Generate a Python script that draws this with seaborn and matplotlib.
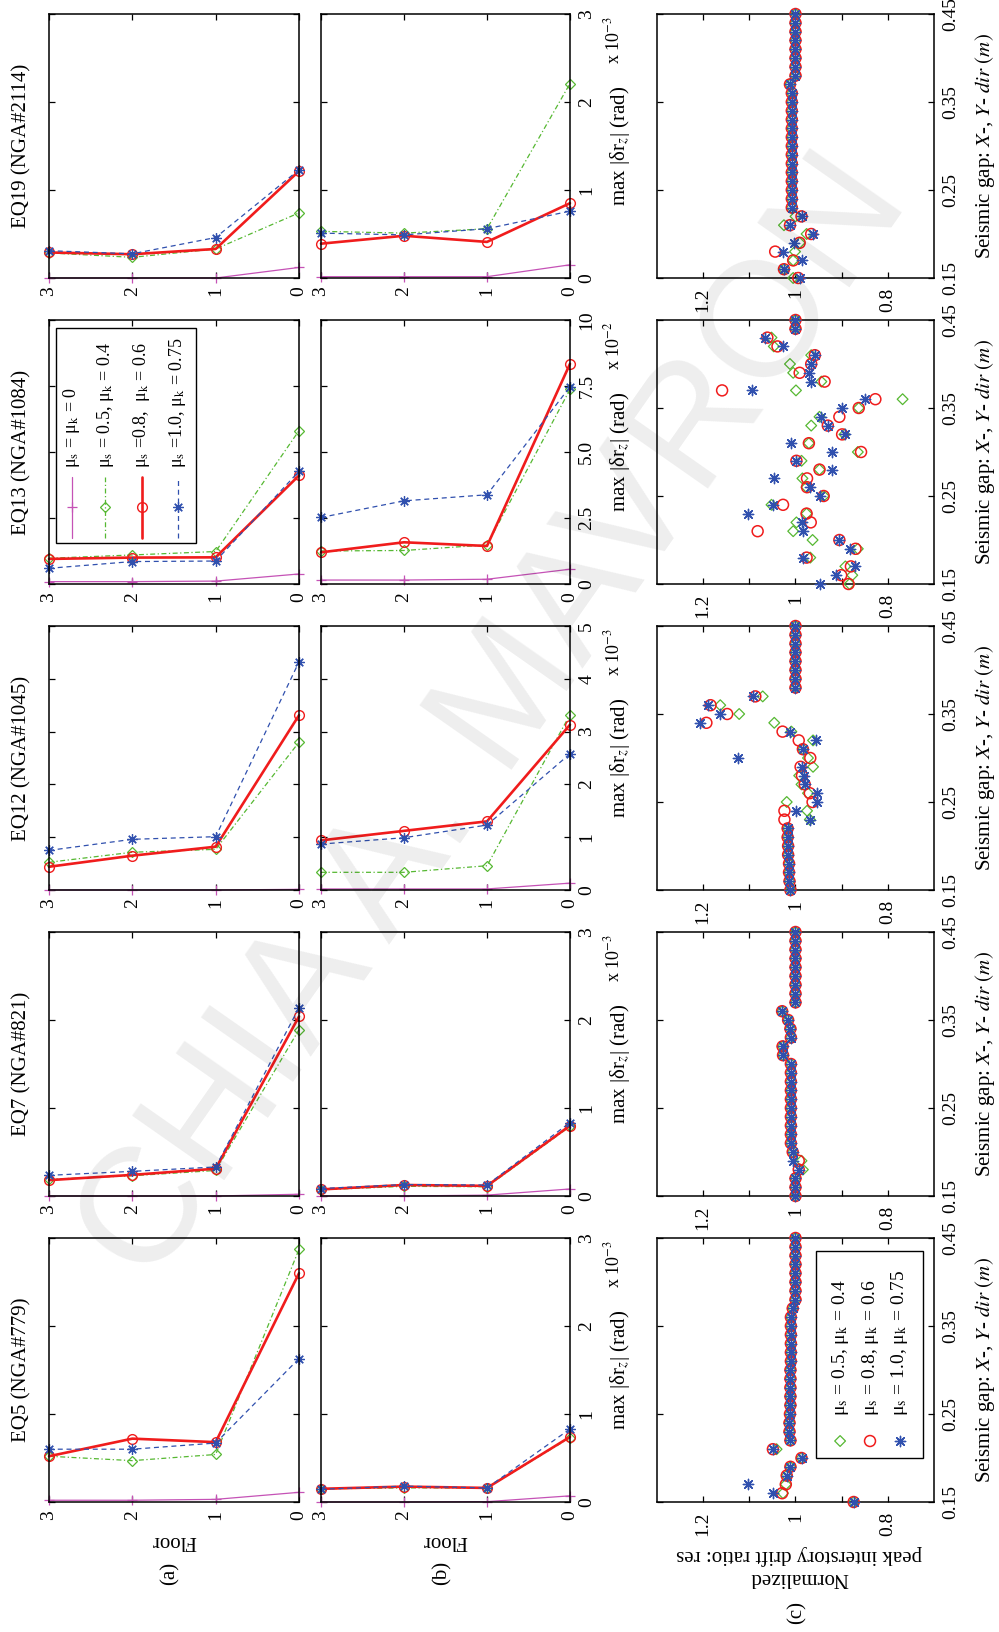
import matplotlib
matplotlib.use("Agg")
import matplotlib.pyplot as plt
from matplotlib.patches import Rectangle
import seaborn as sns

sns.set_theme(style="ticks", rc={
    "axes.edgecolor": "black", "text.color": "black", "axes.labelcolor": "black",
    "xtick.color": "black", "ytick.color": "black", "axes.linewidth": 1.1,
})
plt.rcParams["font.family"] = ["Liberation Serif", "DejaVu Serif"]
plt.rcParams["mathtext.fontset"] = "stix"

# ------------------------------------------------------------------ data
floors = [3, 2, 1, 0]

event_titles = ["EQ5 (NGA#779)", "EQ7 (NGA#821)", "EQ12 (NGA#1045)",
                "EQ13 (NGA#1084)", "EQ19 (NGA#2114)"]

# rotation axis (scaled units) per event
drift_max = [3, 3, 5, 10, 3]
drift_ticks = [[0, 1, 2, 3], [0, 1, 2, 3], [0, 1, 2, 3, 4, 5],
               [0, 2.5, 5, 7.5, 10], [0, 1, 2, 3]]
drift_ticklabels = [["0", "1", "2", "3"], ["0", "1", "2", "3"],
                    ["0", "1", "2", "3", "4", "5"],
                    ["0", "2.5", "5.0", "7.5", "10"], ["0", "1", "2", "3"]]
drift_exponent = [-3, -3, -3, -2, -3]

case_labels = [r"μ$_\mathrm{s}$ = μ$_\mathrm{k}$ = 0",
               r"μ$_\mathrm{s}$ = 0.5, μ$_\mathrm{k}$ = 0.4",
               r"μ$_\mathrm{s}$ =0.8,  μ$_\mathrm{k}$ = 0.6",
               r"μ$_\mathrm{s}$ =1.0, μ$_\mathrm{k}$ = 0.75"]
case_labels_c = [r"μ$_\mathrm{s}$ = 0.5, μ$_\mathrm{k}$ = 0.4",
                 r"μ$_\mathrm{s}$ = 0.8, μ$_\mathrm{k}$ = 0.6",
                 r"μ$_\mathrm{s}$ = 1.0, μ$_\mathrm{k}$ = 0.75"]

# rows: friction case (0 | 0.5/0.4 | 0.8/0.6 | 1.0/0.75); columns: floors 3, 2, 1, 0
eq5_a = [[0.02, 0.02, 0.03, 0.11], [0.52, 0.47, 0.54, 2.87],
         [0.52, 0.72, 0.68, 2.60], [0.60, 0.60, 0.67, 1.63]]
eq5_b = [[0.0, 0.0, 0.004, 0.07], [0.15, 0.16, 0.16, 0.73],
         [0.15, 0.175, 0.16, 0.74], [0.145, 0.18, 0.16, 0.83]]
eq7_a = [[0.0, 0.0, 0.0, 0.02], [0.19, 0.23, 0.29, 1.89],
         [0.18, 0.24, 0.31, 2.04], [0.235, 0.28, 0.33, 2.14]]
eq7_b = [[0.0, 0.0, 0.01, 0.08], [0.07, 0.11, 0.105, 0.79],
         [0.075, 0.125, 0.115, 0.80], [0.085, 0.13, 0.125, 0.835]]
eq12_a = [[0.0, 0.0, 0.0, 0.013], [0.525, 0.715, 0.77, 2.80],
          [0.44, 0.65, 0.82, 3.31], [0.75, 0.96, 1.01, 4.32]]
eq12_b = [[0.02, 0.02, 0.02, 0.13], [0.335, 0.335, 0.46, 3.32],
          [0.94, 1.12, 1.30, 3.13], [0.87, 0.99, 1.23, 2.58]]
eq13_a = [[0.09, 0.09, 0.11, 0.38], [0.975, 1.10, 1.23, 5.81],
          [0.95, 1.0, 1.01, 4.11], [0.595, 0.85, 0.87, 4.27]]
eq13_b = [[0.15, 0.15, 0.18, 0.56], [1.25, 1.27, 1.48, 7.37],
          [1.20, 1.58, 1.44, 8.34], [2.52, 3.15, 3.38, 7.47]]
eq19_a = [[0.0, 0.0, 0.0, 0.12], [0.285, 0.235, 0.33, 0.74],
          [0.29, 0.27, 0.33, 1.215], [0.31, 0.275, 0.46, 1.23]]
eq19_b = [[0.015, 0.015, 0.015, 0.15], [0.53, 0.51, 0.56, 2.21],
          [0.39, 0.48, 0.41, 0.85], [0.51, 0.49, 0.56, 0.76]]

# seismic gap values (m)
gap_m = [0.15, 0.16, 0.17, 0.18, 0.19, 0.20, 0.21, 0.22, 0.23, 0.24, 0.25,
         0.26, 0.27, 0.28, 0.29, 0.30, 0.31, 0.32, 0.33, 0.34, 0.35, 0.36,
         0.37, 0.38, 0.39, 0.40, 0.41, 0.42, 0.43, 0.44, 0.45]

# normalized peak interstory drift ratio per friction case
eq5_c_05 = [0.874, 1.027, 1.021, 1.019, 1.011, 0.987, 1.041, 1.011, 1.013, 1.013, 1.012,
            1.011, 1.011, 1.011, 1.011, 1.011, 1.010, 1.010, 1.010, 1.010, 1.010, 1.010,
            1.006, 1.0, 1.0, 1.0, 1.0, 1.0, 1.0, 1.0, 1.0]
eq5_c_08 = [0.874, 1.029, 1.021, 1.019, 1.011, 0.987, 1.049, 1.011, 1.013, 1.013, 1.012,
            1.011, 1.011, 1.011, 1.011, 1.011, 1.010, 1.010, 1.010, 1.010, 1.010, 1.010,
            1.006, 1.0, 1.0, 1.0, 1.0, 1.0, 1.0, 1.0, 1.0]
eq5_c_10 = [0.874, 1.049, 1.102, 1.019, 1.011, 0.987, 1.049, 1.011, 1.013, 1.013, 1.012,
            1.011, 1.011, 1.011, 1.011, 1.011, 1.010, 1.010, 1.010, 1.010, 1.010, 1.010,
            1.006, 1.0, 1.0, 1.0, 1.0, 1.0, 1.0, 1.0, 1.0]

eq7_c_05 = [1.0, 1.0, 1.0, 0.984, 0.987, 1.006, 1.010, 1.010, 1.010, 1.010, 1.010,
            1.010, 1.010, 1.010, 1.010, 1.010, 1.027, 1.028, 1.010, 1.011, 1.016, 1.029,
            1.0, 1.0, 1.0, 1.0, 1.0, 1.0, 1.0, 1.0, 1.0]
eq7_c_08 = [1.0, 1.0, 1.0, 0.993, 0.993, 1.006, 1.010, 1.010, 1.010, 1.010, 1.010,
            1.010, 1.010, 1.010, 1.010, 1.010, 1.027, 1.028, 1.010, 1.011, 1.016, 1.029,
            1.0, 1.0, 1.0, 1.0, 1.0, 1.0, 1.0, 1.0, 1.0]
eq7_c_10 = [1.0, 1.0, 1.0, 0.993, 1.005, 1.006, 1.010, 1.010, 1.010, 1.010, 1.010,
            1.010, 1.010, 1.010, 1.010, 1.010, 1.027, 1.028, 1.010, 1.011, 1.016, 1.029,
            1.0, 1.0, 1.0, 1.0, 1.0, 1.0, 1.0, 1.0, 1.0]

eq12_c_05 = [1.011, 1.013, 1.014, 1.014, 1.016, 1.016, 1.017, 1.017, 0.969, 0.975, 1.019,
             0.973, 0.987, 0.992, 0.962, 0.973, 0.984, 0.962, 1.009, 1.046, 1.122, 1.163,
             1.071, 1.0, 1.0, 1.0, 1.0, 1.0, 1.0, 1.0, 1.0]
eq12_c_08 = [1.011, 1.013, 1.014, 1.014, 1.016, 1.016, 1.017, 1.017, 1.024, 1.024, 0.963,
             0.969, 0.980, 0.986, 0.989, 0.968, 0.984, 0.993, 1.028, 1.193, 1.148, 1.184,
             1.087, 1.0, 1.0, 1.0, 1.0, 1.0, 1.0, 1.0, 1.0]
eq12_c_10 = [1.011, 1.013, 1.014, 1.014, 1.016, 1.016, 1.017, 1.017, 0.969, 0.999, 0.953,
             0.953, 0.980, 0.982, 0.987, 1.125, 0.984, 0.956, 1.011, 1.206, 1.164, 1.190,
             1.091, 1.0, 1.0, 1.0, 1.0, 1.0, 1.0, 1.0, 1.0]

eq13_c_05 = [0.883, 0.877, 0.892, 0.968, 0.865, 0.963, 1.005, 0.998, 0.976, 1.052, 0.939,
             0.976, 0.985, 0.948, 0.987, 0.865, 0.971, 0.894, 0.966, 0.948, 0.863, 0.768,
             0.999, 0.944, 1.005, 1.012, 0.966, 1.047, 1.052, 1.0, 1.0]
eq13_c_08 = [0.885, 0.901, 0.880, 0.976, 0.870, 0.905, 1.082, 0.967, 0.976, 1.027, 0.939,
             0.975, 0.975, 0.948, 0.998, 0.858, 0.971, 0.899, 0.930, 0.905, 0.863, 0.827,
             1.159, 0.937, 0.991, 0.966, 0.958, 1.039, 1.061, 1.0, 1.0]
eq13_c_10 = [0.946, 0.913, 0.872, 0.984, 0.883, 0.905, 0.984, 0.985, 1.102, 1.048, 0.946,
             0.969, 1.047, 0.921, 0.998, 0.921, 1.009, 0.892, 0.930, 0.944, 0.899, 0.849,
             1.095, 0.966, 0.971, 0.966, 0.958, 1.028, 1.065, 1.0, 1.0]

eq19_c_05 = [1.005, 1.025, 1.005, 1.001, 0.991, 0.976, 1.025, 1.0, 1.008, 1.008, 1.008,
             1.008, 1.008, 1.008, 1.008, 1.008, 1.008, 1.008, 1.008, 1.008, 1.008, 1.008,
             1.012, 1.0, 1.0, 1.0, 1.0, 1.0, 1.0, 1.0, 1.0]
eq19_c_08 = [0.994, 1.025, 1.005, 1.044, 0.991, 0.966, 1.012, 0.987, 1.008, 1.008, 1.008,
             1.008, 1.008, 1.008, 1.008, 1.008, 1.008, 1.008, 1.008, 1.008, 1.008, 1.008,
             1.012, 1.0, 1.0, 1.0, 1.0, 1.0, 1.0, 1.0, 1.0]
eq19_c_10 = [0.991, 1.025, 0.985, 1.027, 1.004, 0.962, 1.012, 0.987, 1.008, 1.008, 1.008,
             1.008, 1.008, 1.008, 1.008, 1.008, 1.008, 1.008, 1.008, 1.008, 1.008, 1.008,
             1.012, 1.0, 1.0, 1.0, 1.0, 1.0, 1.0, 1.0, 1.0]

row_a = [eq5_a, eq7_a, eq12_a, eq13_a, eq19_a]
row_b = [eq5_b, eq7_b, eq12_b, eq13_b, eq19_b]
row_c = [[eq5_c_05, eq5_c_08, eq5_c_10], [eq7_c_05, eq7_c_08, eq7_c_10],
         [eq12_c_05, eq12_c_08, eq12_c_10], [eq13_c_05, eq13_c_08, eq13_c_10],
         [eq19_c_05, eq19_c_08, eq19_c_10]]

# ------------------------------------------------------------------ styles
MAGENTA, GREEN, RED, BLUE = "#c552b6", "#56b832", "#f01c1c", "#3050ae"
ASTERISK = (8, 2, 0)
line_styles = [
    dict(color=MAGENTA, linestyle="-", linewidth=0.9, marker="+", markersize=7, markeredgewidth=0.9),
    dict(color=GREEN, linestyle=(0, (4, 2, 1, 2)), linewidth=0.9, marker="D", markersize=5.2, markeredgewidth=0.9),
    dict(color=RED, linestyle="-", linewidth=1.9, marker="o", markersize=7, markeredgewidth=1.0),
    dict(color=BLUE, linestyle=(0, (4, 3)), linewidth=0.9, marker=ASTERISK, markersize=7.5, markeredgewidth=0.9),
]
scatter_styles = [
    dict(marker="D", s=30, color=GREEN, facecolor="none", edgecolor=GREEN, linewidth=0.9),
    dict(marker="o", s=62, color=RED, facecolor="none", edgecolor=RED, linewidth=1.1),
    dict(marker=ASTERISK, s=55, color=BLUE, linewidth=1.0),
]

TICK_FS, LABEL_FS = 14, 15
W, H = 999, 1632
fig = plt.figure(figsize=(W / 100, H / 100), dpi=100)


def axes_px(left, top, width, height):
    return fig.add_axes([left / W, 1 - (top + height) / H, width / W, height / H])


def fig_text(x, y, s, **kw):
    return fig.text(x / W, 1 - y / H, s, **kw)


def frame(ax):
    for sp in ax.spines.values():
        sp.set_visible(True)
        sp.set_linewidth(1.1)
        sp.set_color("black")
    ax.tick_params(axis="both", which="both", direction="in", length=4, width=0.9,
                   top=True, bottom=True, left=True, right=True, labelsize=TICK_FS)


PANEL_H = 264
tops = [1238, 932, 626, 320, 14]          # EQ5 ... EQ19
cols = {"a": (49, 250), "b": (321, 249), "c": (657, 277)}

for i, title in enumerate(event_titles):
    top = tops[i]
    yc = top + PANEL_H / 2
    fig_text(22, yc, title, rotation=90, ha="center", va="center", fontsize=LABEL_FS)

    for row, data in (("a", row_a[i]), ("b", row_b[i])):
        left, width = cols[row]
        ax = axes_px(left, top, width, PANEL_H)
        frame(ax)
        for vals, st in zip(data, line_styles):
            sns.lineplot(x=floors, y=vals, ax=ax, estimator=None, sort=False,
                         markerfacecolor="none", markeredgecolor=st["color"],
                         clip_on=False, legend=False, **st)
        ax.set_xlim(3, 0)
        ax.set_ylim(0, drift_max[i])
        ax.set_xticks([0, 1, 2, 3], ["0", "1", "2", "3"], rotation=90, ha="center", va="top")
        ax.tick_params(axis="x", pad=6)
        if row == "b":
            ax.set_yticks(drift_ticks[i], drift_ticklabels[i], rotation=90,
                          ha="left", va="center")
            ax.tick_params(axis="y", labelleft=False, labelright=True, pad=6)
            fig_text(left + width + 50, yc, "max |δr$_z$| (rad)", rotation=90,
                     ha="center", va="center", fontsize=LABEL_FS)
            fig_text(left + width + 43, top + 26, "x 10$^{%d}$" % drift_exponent[i],
                     rotation=90, ha="center", va="center", fontsize=13)
        else:
            ax.set_yticks(drift_ticks[i])
            ax.tick_params(axis="y", labelleft=False, labelright=False)
        ax.set_xlabel("")
        ax.set_ylabel("")

        # legend of the friction cases
        if row == "a" and i == 3:
            ax.add_patch(Rectangle((0.028, 0.155), 0.56, 0.815, transform=ax.transAxes,
                                   facecolor="white", edgecolor="black", lw=1.0, zorder=5))
            for xc, lab, st in zip([0.092, 0.224, 0.372, 0.516], case_labels, line_styles):
                ax.plot([xc, xc], [0.174, 0.405], transform=ax.transAxes, zorder=6,
                        color=st["color"], linestyle=st["linestyle"], linewidth=st["linewidth"])
                ax.plot([xc], [0.29], transform=ax.transAxes, zorder=6, linestyle="none",
                        marker=st["marker"], markersize=st["markersize"],
                        markeredgewidth=st["markeredgewidth"], markerfacecolor="none",
                        markeredgecolor=st["color"])
                ax.text(xc, 0.44, lab, transform=ax.transAxes, rotation=90, ha="center",
                        va="bottom", fontsize=13, zorder=7)

    # (c) normalized drift vs seismic gap
    left, width = cols["c"]
    ax = axes_px(left, top, width, PANEL_H)
    frame(ax)
    for vals, st in zip(row_c[i], scatter_styles):
        sns.scatterplot(x=vals, y=gap_m, ax=ax, clip_on=False, legend=False, zorder=3, **st)
    ax.set_xlim(1.3, 0.7)
    ax.set_ylim(0.15, 0.45)
    ax.set_xticks([0.8, 0.9, 1.0, 1.1, 1.2], ["0.8", "", "1", "", "1.2"], rotation=90,
                  ha="center", va="top")
    ax.set_yticks([0.15, 0.25, 0.35, 0.45], ["0.15", "0.25", "0.35", "0.45"], rotation=90,
                  ha="left", va="center")
    ax.tick_params(axis="x", pad=7)
    ax.tick_params(axis="y", labelleft=False, labelright=True, pad=6)
    ax.set_xlabel("")
    ax.set_ylabel("")
    fig_text(left + width + 51, yc, "Seismic gap: $X$-, $Y$- $dir$ $(m)$", rotation=90,
             ha="center", va="center", fontsize=LABEL_FS)

    if i == 0:
        ax.add_patch(Rectangle((0.574, 0.167), 0.386, 0.784, transform=ax.transAxes,
                               facecolor="white", edgecolor="black", lw=1.0, zorder=5))
        for xc, lab, st in zip([0.661, 0.769, 0.877], case_labels_c, scatter_styles):
            ax.scatter([xc], [0.231], transform=ax.transAxes, zorder=6, **st)
            ax.text(xc, 0.325, lab, transform=ax.transAxes, rotation=90, ha="center",
                    va="bottom", fontsize=14, zorder=7)

# shared axis annotations along the bottom edge
fig_text(174, 1541, "Floor", rotation=180, ha="center", va="center", fontsize=LABEL_FS)
fig_text(445, 1541, "Floor", rotation=180, ha="center", va="center", fontsize=LABEL_FS)
fig_text(799, 1566, "Normalized\npeak interstory drift ratio: res", rotation=180,
         ha="center", va="center", multialignment="center", linespacing=1.15,
         fontsize=LABEL_FS)
fig_text(170, 1573, "(a)", rotation=90, ha="center", va="center", fontsize=LABEL_FS)
fig_text(442, 1573, "(b)", rotation=90, ha="center", va="center", fontsize=LABEL_FS)
fig_text(797, 1613, "(c)", rotation=90, ha="center", va="center", fontsize=LABEL_FS)

# author watermark
fig_text(495, 720, "CHIA A. MAVRON", rotation=55, ha="center", va="center",
         fontsize=118, family="Liberation Sans", color="black", alpha=0.07, zorder=100)

fig.savefig("out.png", dpi=100)
